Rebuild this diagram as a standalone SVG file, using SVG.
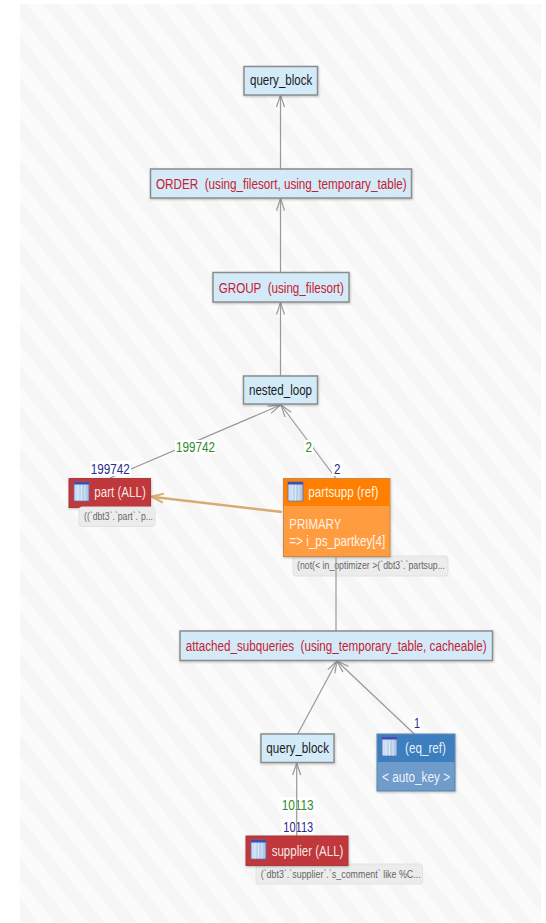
<svg xmlns="http://www.w3.org/2000/svg" width="546" height="923" viewBox="0 0 546 923">
<defs>
<pattern id="st" width="25.7" height="40" patternUnits="userSpaceOnUse" patternTransform="rotate(-38.7 20 4)">
<rect width="25.7" height="40" fill="#f6f6f6"/><rect width="12.8" height="40" fill="#fbfbfb"/>
</pattern>
<marker id="ar" markerUnits="userSpaceOnUse" markerWidth="14" markerHeight="12" refX="13" refY="6" orient="auto"><path d="M1 2L13 6L1 10" fill="none" stroke="#999" stroke-width="1.2"/></marker>
<marker id="ao" markerUnits="userSpaceOnUse" markerWidth="16" markerHeight="14" refX="14" refY="7" orient="auto"><path d="M2 2.500L14 7L2 11.500" fill="none" stroke="#d9ab72" stroke-width="2"/></marker>
<linearGradient id="ic" x1="0" x2="1" y1="0" y2="0"><stop offset="0" stop-color="#cfe0f5"/><stop offset="1" stop-color="#a9c4e6"/></linearGradient>
<filter id="sh" x="-5%" y="-10%" width="110%" height="125%"><feDropShadow dx="0.500" dy="1" stdDeviation="0.800" flood-color="#000" flood-opacity=".25"/></filter>
<g id="icon"><rect width="15" height="19" fill="url(#ic)" stroke="#5a6fb5" stroke-width=".8"/><rect width="15" height="2.500" fill="#3b4fb0"/><path d="M4 3V19M7.500 3V19M11 3V19" stroke="#fff" stroke-width=".7" opacity=".7"/></g>
</defs>
<style>
text{font-family:"Liberation Sans",Arial,sans-serif;font-size:14px;white-space:pre}
.b{fill:#d3eaf9;stroke:#8c8c8c;stroke-width:1.5;filter:url(#sh)}
.k{fill:#1c1c1c}.r{fill:#c8202f}.w{fill:#fff;fill-opacity:.9}
.e{fill:none;stroke:#999;stroke-width:1.2}
.g{fill:#2e8b2e}.n{fill:#2a2a90}
.lb{fill:#fff}
.c{fill:#ececec;stroke:#e2e2e2}
.c2{font-size:10.500px;fill:#666}
</style>
<rect x="20" y="4" width="521" height="919" fill="url(#st)"/>
<g id="labels-under">
<rect class="lb" x="279" y="797" width="36" height="15"/><text class="g" x="281.700" y="810" textLength="32" lengthAdjust="spacingAndGlyphs">10113</text>
<rect class="lb" x="281" y="819" width="34" height="15"/><text class="n" x="283.300" y="832" textLength="30" lengthAdjust="spacingAndGlyphs">10113</text>
</g>
<g id="connectors">
<path class="e" d="M280.500 169V95" marker-end="url(#ar)"/>
<path class="e" d="M280.500 272V198.500" marker-end="url(#ar)"/>
<path class="e" d="M280.500 376V302.500" marker-end="url(#ar)"/>
<path class="e" d="M110 478L280.500 405" marker-end="url(#ar)"/>
<path class="e" d="M335.700 478L281 405" marker-end="url(#ar)"/>
<path d="M282 512L151.500 496.700" fill="none" stroke="#d9ab72" stroke-width="2.500" marker-end="url(#ao)"/>
<path class="e" d="M297.700 734L337 661" marker-end="url(#ar)"/>
<path class="e" d="M414.300 734L337 661" marker-end="url(#ar)"/>
<path class="e" d="M296.700 836V763" marker-end="url(#ar)"/>
</g>
<g id="node-query-block-top"><rect class="b" x="244" y="66.500" width="73.500" height="28.500"/><text class="k" x="250" y="85" textLength="62.300" lengthAdjust="spacingAndGlyphs">query_block</text></g>
<g id="node-order"><rect class="b" x="150.500" y="169" width="261" height="29"/><text class="r" x="156" y="189" textLength="250.700" lengthAdjust="spacingAndGlyphs">ORDER  (using_filesort, using_temporary_table)</text></g>
<g id="node-group"><rect class="b" x="213" y="272.500" width="136" height="29.500"/><text class="r" x="218.700" y="292.700" textLength="125.300" lengthAdjust="spacingAndGlyphs">GROUP  (using_filesort)</text></g>
<g id="node-nested-loop"><rect class="b" x="243.500" y="376" width="74" height="28"/><text class="k" x="249" y="395" textLength="63" lengthAdjust="spacingAndGlyphs">nested_loop</text></g>
<g id="labels">
<rect class="lb" x="175" y="440" width="41" height="14"/><text class="g" x="176" y="451.500" textLength="39" lengthAdjust="spacingAndGlyphs">199742</text>
<rect class="lb" x="90" y="461" width="41" height="15"/><text class="n" x="90.700" y="474" textLength="39" lengthAdjust="spacingAndGlyphs">199742</text>
<rect class="lb" x="304" y="440" width="9" height="14"/><text class="g" x="305.500" y="451.500" textLength="6.500" lengthAdjust="spacingAndGlyphs">2</text>
<rect class="lb" x="332" y="461" width="10" height="15"/><text class="n" x="334" y="474" textLength="6.500" lengthAdjust="spacingAndGlyphs">2</text>
<rect class="lb" x="412" y="716" width="9" height="15"/><text class="n" x="414" y="728" textLength="6" lengthAdjust="spacingAndGlyphs">1</text>
</g>
<g id="node-part"><rect x="69" y="478.500" width="81.500" height="29" fill="#c0393b" stroke="#a83a3a" filter="url(#sh)"/><use href="#icon" x="74" y="482"/><text class="w" x="94.300" y="497" textLength="51.500" lengthAdjust="spacingAndGlyphs">part (ALL)</text></g>
<g id="cond-part"><rect class="c" x="79" y="507" width="76" height="19.500" rx="3"/><text class="c2" x="84" y="520" textLength="69" lengthAdjust="spacingAndGlyphs">((`dbt3`.`part`.`p...</text></g>
<g id="cond-partsupp"><rect class="c" x="293" y="556" width="155" height="20" rx="3"/><text class="c2" x="297" y="569" textLength="148" lengthAdjust="spacingAndGlyphs">(not(&lt; in_optimizer &gt;(`dbt3`.`partsup...</text></g>
<g id="node-partsupp"><rect x="283.500" y="478.500" width="106.500" height="78" fill="#ff9c3f" stroke="#c98a4a" filter="url(#sh)"/><rect x="284" y="479" width="105.500" height="27" fill="#ff8000"/><use href="#icon" x="288" y="482"/><text class="w" x="308.300" y="497" textLength="70" lengthAdjust="spacingAndGlyphs">partsupp (ref)</text><text class="w" x="289.300" y="529" textLength="52" lengthAdjust="spacingAndGlyphs">PRIMARY</text><text class="w" x="289.300" y="546" textLength="96" lengthAdjust="spacingAndGlyphs">=&gt; i_ps_partkey[4]</text></g>
<g id="connector-attached"><path class="e" d="M336 557V631"/></g>
<g id="node-attached"><rect class="b" x="180" y="631" width="312.500" height="29.500"/><text class="r" x="185.700" y="650.500" textLength="301" lengthAdjust="spacingAndGlyphs">attached_subqueries  (using_temporary_table, cacheable)</text></g>
<g id="node-query-block-sub"><rect class="b" x="261" y="734" width="73" height="28.500"/><text class="k" x="266.300" y="752.700" textLength="62.700" lengthAdjust="spacingAndGlyphs">query_block</text></g>
<g id="node-eq-ref"><rect x="377" y="734" width="78" height="57" fill="#6f9ccb" stroke="#5b83ab" filter="url(#sh)"/><rect x="377.500" y="734.500" width="77" height="27.500" fill="#3d7ebf"/><use href="#icon" x="382" y="737"/><text class="w" x="405" y="753" textLength="41" lengthAdjust="spacingAndGlyphs">(eq_ref)</text><text class="w" x="382" y="781.700" textLength="68" lengthAdjust="spacingAndGlyphs">&lt; auto_key &gt;</text></g>
<g id="cond-supplier"><rect class="c" x="256" y="864" width="166.500" height="20" rx="3"/><text class="c2" x="260.700" y="877.700" textLength="160" lengthAdjust="spacingAndGlyphs">(`dbt3`.`supplier`.`s_comment` like %C...</text></g>
<g id="node-supplier"><rect x="246" y="836" width="102" height="29.500" fill="#c0393b" stroke="#a83a3a" filter="url(#sh)"/><use href="#icon" x="251" y="840"/><text class="w" x="271.700" y="856" textLength="71.700" lengthAdjust="spacingAndGlyphs">supplier (ALL)</text></g>
</svg>
